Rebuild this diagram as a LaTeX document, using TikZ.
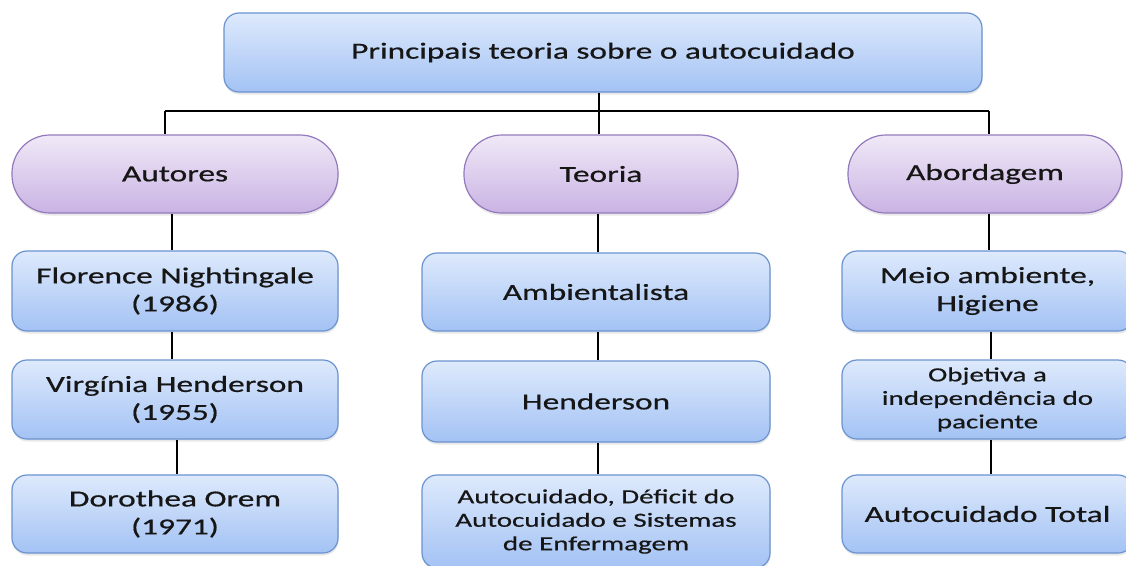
\documentclass[tikz,border=0pt]{standalone}
\usepackage{fontspec}
\setmainfont{Carlito}[FakeStretch=1.45,FakeBold=0.6]
\usetikzlibrary{shadows}
\definecolor{txt}{HTML}{161616}
\definecolor{blueT}{HTML}{DEEAFC}
\definecolor{blueB}{HTML}{A3C2F4}
\definecolor{blueD}{HTML}{6A93CF}
\definecolor{purT}{HTML}{F0E9F7}
\definecolor{purB}{HTML}{C9B3E3}
\definecolor{purD}{HTML}{9479BD}
\tikzset{
  bluebox/.style={draw=blueD, line width=1.2pt, rounded corners=15pt,
    top color=blueT, bottom color=blueB, align=center, text=txt,
    inner sep=0pt, font=\fontsize{23}{28}\selectfont,
    drop shadow={opacity=0.18, shadow xshift=0.5pt, shadow yshift=-2.5pt}},
  smalltext/.style={font=\fontsize{20}{23.5}\selectfont},
  stadium/.style={draw=purD, line width=1.2pt, rounded corners=38pt,
    top color=purT, bottom color=purB, align=center, text=txt,
    inner sep=0pt, font=\fontsize{23}{28}\selectfont,
    minimum height=78pt,
    drop shadow={opacity=0.18, shadow xshift=0.5pt, shadow yshift=-2.5pt}},
  conn/.style={draw=black, line width=1.3pt}
}
\begin{document}
\begin{tikzpicture}[x=1pt,y=-1pt]
\useasboundingbox (0,0) rectangle (1126,565);
\clip (0,0) rectangle (1126,565);
\fill[white] (0,0) rectangle (1126,565);

% top
\node[bluebox, minimum width=758pt, minimum height=79pt] (top) at (603,52.5) {Principais teoria sobre o autocuidado};

% stadiums
\node[stadium, minimum width=326pt] (aut) at (175,174) {Autores};
\node[stadium, minimum width=274pt] (teo) at (601,174) {Teoria};
\node[stadium, minimum width=274pt] (abo) at (985,174) {Abordagem};

% column 1
\node[bluebox, minimum width=326pt, minimum height=80pt] (a1) at (175,291) {Florence Nightingale\\(1986)};
\node[bluebox, minimum width=326pt, minimum height=79pt] (a2) at (175,399.5) {Virgínia Henderson\\(1955)};
\node[bluebox, minimum width=326pt, minimum height=78pt] (a3) at (175,514) {Dorothea Orem\\(1971)};

% column 2
\node[bluebox, minimum width=348pt, minimum height=78pt] (t1) at (596,292) {Ambientalista};
\node[bluebox, minimum width=348pt, minimum height=81pt] (t2) at (596,401.5) {Henderson};
\node[bluebox, smalltext, minimum width=348pt, minimum height=93pt] (t3) at (596,521.5) {Autocuidado, Déficit do\\Autocuidado e Sistemas\\de Enfermagem};

% column 3
\node[bluebox, minimum width=291pt, minimum height=80pt] (b1) at (987.5,291) {Meio ambiente,\\Higiene};
\node[bluebox, smalltext, minimum width=291pt, minimum height=79pt] (b2) at (987.5,399.5) {Objetiva a\\independência do\\paciente};
\node[bluebox, minimum width=291pt, minimum height=78pt] (b3) at (987.5,514) {Autocuidado Total};

% bus connectors
\coordinate (busL) at (165,111);
\coordinate (busM) at (599,111);
\coordinate (busR) at (989,111);
\draw[conn] (busM |- top.south) -- (busM);
\draw[conn] (busL) -- (busR);
\draw[conn] (busL) -- (busL |- aut.north);
\draw[conn] (busM) -- (busM |- teo.north);
\draw[conn] (busR) -- (busR |- abo.north);

% column connectors
\draw[conn] ([xshift=-3pt]aut.south) -- ([xshift=-3pt]a1.north);
\draw[conn] ([xshift=-3pt]a1.south) -- ([xshift=-3pt]a2.north);
\draw[conn] ([xshift=2pt]a2.south) -- ([xshift=2pt]a3.north);
\draw[conn] ([xshift=-3pt]teo.south) -- ([xshift=2pt]t1.north);
\draw[conn] ([xshift=2pt]t1.south) -- ([xshift=2pt]t2.north);
\draw[conn] ([xshift=2pt]t2.south) -- ([xshift=2pt]t3.north);
\draw[conn] ([xshift=4pt]abo.south) -- ([xshift=1.5pt]b1.north);
\draw[conn] ([xshift=3.5pt]b1.south) -- ([xshift=3.5pt]b2.north);
\draw[conn] ([xshift=3.5pt]b2.south) -- ([xshift=3.5pt]b3.north);
\end{tikzpicture}
\end{document}
